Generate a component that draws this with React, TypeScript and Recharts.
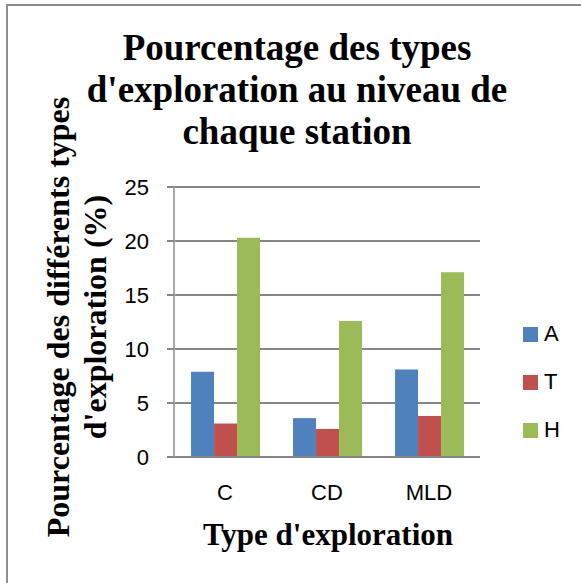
import { BarChart, Bar, XAxis, YAxis, CartesianGrid } from 'recharts';

const categories = ['C', 'CD', 'MLD'];
const valuesA = [7.9, 3.6, 8.1];
const valuesT = [3.1, 2.6, 3.8];
const valuesH = [20.3, 12.6, 17.1];
const yTicks = [0, 5, 10, 15, 20, 25];

const series = [
  { key: 'A', color: '#4F81BD' },
  { key: 'T', color: '#C0504D' },
  { key: 'H', color: '#9BBB59' },
];

const data = categories.map((c, i) => ({ name: c, A: valuesA[i], T: valuesT[i], H: valuesH[i] }));

const serif = '"Liberation Serif", "Times New Roman", serif';
const sans = '"Liberation Sans", Arial, sans-serif';

export default function App() {
  return (
    <div style={{
      position: 'absolute', left: 0, top: 0, width: 581, height: 583,
      background: '#fff', overflow: 'hidden',
    }}>
      {/* outer frame, only top and left edges show */}
      <div style={{
        position: 'absolute', left: 6, top: 4, width: 640, height: 640,
        border: '2px solid #8c8c8c',
      }} />

      <BarChart
        width={581}
        height={583}
        data={data}
        margin={{ top: 187, right: 101, bottom: 96, left: 114 }}
        barCategoryGap="16.7%"
        barGap={0}
      >
        <CartesianGrid vertical={false} stroke="#868686" strokeWidth={2} />
        <XAxis
          dataKey="name"
          height={30}
          tickSize={0}
          tickLine={false}
          tickMargin={27}
          axisLine={{ stroke: '#868686', strokeWidth: 2 }}
          tick={{ fill: '#000', fontSize: 22, fontFamily: sans }}
        />
        <YAxis
          width={60}
          domain={[0, 25]}
          ticks={yTicks}
          interval={0}
          tickSize={7}
          tickMargin={18}
          tickLine={{ stroke: '#868686', strokeWidth: 2 }}
          axisLine={{ stroke: '#a8a8a8', strokeWidth: 2 }}
          tick={{ fill: '#000', fontSize: 22, fontFamily: sans }}
        />
        {series.map(s => (
          <Bar key={s.key} dataKey={s.key} fill={s.color} isAnimationActive={false} />
        ))}
      </BarChart>

      <svg width={581} height={583} style={{ position: 'absolute', left: 0, top: 0, pointerEvents: 'none' }}>
        <g fontFamily={serif} fontWeight="bold" fill="#000" textAnchor="middle">
          <text x={297} y={60} fontSize={37}>Pourcentage des types</text>
          <text x={297} y={102} fontSize={37}>d'exploration au niveau de</text>
          <text x={297} y={144} fontSize={37}>chaque station</text>
          <text x={69} y={317} fontSize={32} transform="rotate(-90, 69, 317)">Pourcentage des différents types</text>
          <text x={106} y={317} fontSize={32} transform="rotate(-90, 106, 317)">d'exploration (%)</text>
          <text x={328} y={545} fontSize={31}>Type d'exploration</text>
        </g>
      </svg>

      <div style={{ position: 'absolute', left: 523, top: 310, fontFamily: sans, fontSize: 22, color: '#000' }}>
        {series.map(s => (
          <div key={s.key} style={{ display: 'flex', alignItems: 'center', height: 48 }}>
            <span style={{ display: 'inline-block', width: 15, height: 15, background: s.color, marginRight: 6 }} />
            <span>{s.key}</span>
          </div>
        ))}
      </div>
    </div>
  );
}
